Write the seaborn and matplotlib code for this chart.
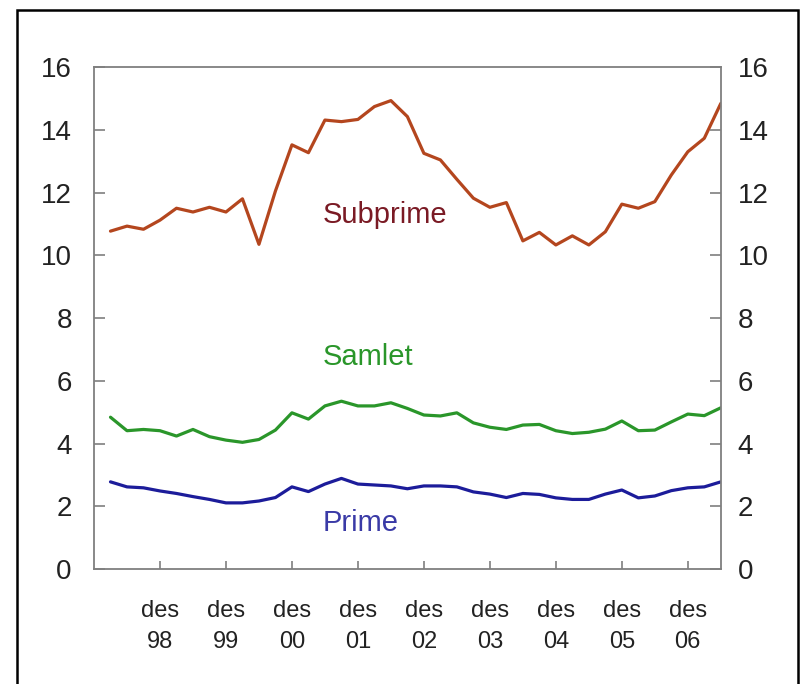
import numpy as np
import pandas as pd
import matplotlib
matplotlib.use("Agg")
import matplotlib.pyplot as plt
from matplotlib.patches import Rectangle
import seaborn as sns

# Quarterly observations, 1998 Q1 - 2007 Q2
subprime = [10.77, 10.93, 10.83, 11.12, 11.50, 11.38, 11.53, 11.38, 11.80, 10.35,
            12.05, 13.52, 13.27, 14.31, 14.26, 14.33, 14.74, 14.93, 14.42, 13.25,
            13.04, 12.42, 11.82, 11.53, 11.68, 10.46, 10.73, 10.33, 10.62, 10.33,
            10.75, 11.63, 11.50, 11.71, 12.56, 13.30, 13.73, 14.84]
samlet = [4.84, 4.41, 4.45, 4.41, 4.24, 4.45, 4.22, 4.11, 4.04, 4.13,
          4.43, 4.98, 4.78, 5.20, 5.35, 5.20, 5.20, 5.30, 5.12, 4.91,
          4.88, 4.98, 4.66, 4.52, 4.45, 4.59, 4.61, 4.41, 4.32, 4.36,
          4.46, 4.72, 4.41, 4.43, 4.69, 4.94, 4.89, 5.14]
prime = [2.78, 2.62, 2.59, 2.49, 2.41, 2.31, 2.22, 2.11, 2.11, 2.17,
         2.28, 2.62, 2.47, 2.71, 2.89, 2.71, 2.68, 2.65, 2.56, 2.65,
         2.65, 2.62, 2.46, 2.39, 2.28, 2.41, 2.38, 2.27, 2.22, 2.22,
         2.39, 2.52, 2.27, 2.33, 2.50, 2.59, 2.62, 2.78]

series_names = ["Subprime", "Samlet", "Prime"]
series_colors = ["#b4461e", "#2a962a", "#1c1c9a"]
label_colors = ["#7a1a24", "#2a962a", "#3a3aa6"]
label_y = [11.28, 6.76, 1.47]
tick_labels = ["des\n98", "des\n99", "des\n00", "des\n01", "des\n02",
               "des\n03", "des\n04", "des\n05", "des\n06"]

quarter = np.arange(len(subprime))
df = pd.DataFrame({
    "kvartal": np.tile(quarter, 3),
    "verdi": subprime + samlet + prime,
    "serie": np.repeat(series_names, len(quarter)),
})

sns.set_theme(style="white")
plt.rcParams["font.family"] = ["Liberation Sans", "DejaVu Sans"]

fig = plt.figure(figsize=(8, 6.84), dpi=100)
ax = fig.add_axes([0.1175, 0.168, 0.7835, 0.734])

sns.lineplot(data=df, x="kvartal", y="verdi", hue="serie",
             palette=dict(zip(series_names, series_colors)),
             linewidth=2.3, legend=False, ax=ax)

ax.set_xlim(-1, 37)
ax.set_ylim(0, 16)
ax.set_yticks(np.arange(0, 17, 2))
ax.set_xticks(np.arange(3, 36, 4))
ax.set_xticklabels(tick_labels, linespacing=1.55)
ax.set_xlabel("")
ax.set_ylabel("")

for side in ["left", "right", "top", "bottom"]:
    ax.spines[side].set_color("#7f7f7f")
    ax.spines[side].set_linewidth(1.3)

ax.tick_params(axis="y", direction="in", left=True, right=False,
               labelleft=True, labelright=False, length=8, width=1.2,
               color="#7f7f7f", labelsize=20, labelcolor="#222222", pad=16)
ax.tick_params(axis="x", direction="in", bottom=True, length=6, width=1.2,
               color="#7f7f7f", labelsize=17, labelcolor="#222222", pad=22)

# Mirrored scale on the right-hand side
ax_r = ax.twinx()
ax_r.set_ylim(ax.get_ylim())
ax_r.set_yticks(np.arange(0, 17, 2))
ax_r.tick_params(axis="y", direction="in", right=True, labelright=True,
                 length=8, width=1.2, color="#7f7f7f", labelsize=20,
                 labelcolor="#222222", pad=12)
for side in ["left", "right", "top", "bottom"]:
    ax_r.spines[side].set_visible(False)

for name, color, y in zip(series_names, label_colors, label_y):
    ax.text(12.88, y, name, color=color, fontsize=21, ha="left", va="center")

# Outer frame around the figure
fig.patches.append(Rectangle((0.021, -0.02), 0.976, 1.005,
                             transform=fig.transFigure, fill=False,
                             edgecolor="black", linewidth=1.8))

fig.savefig("out.png", dpi=100)
